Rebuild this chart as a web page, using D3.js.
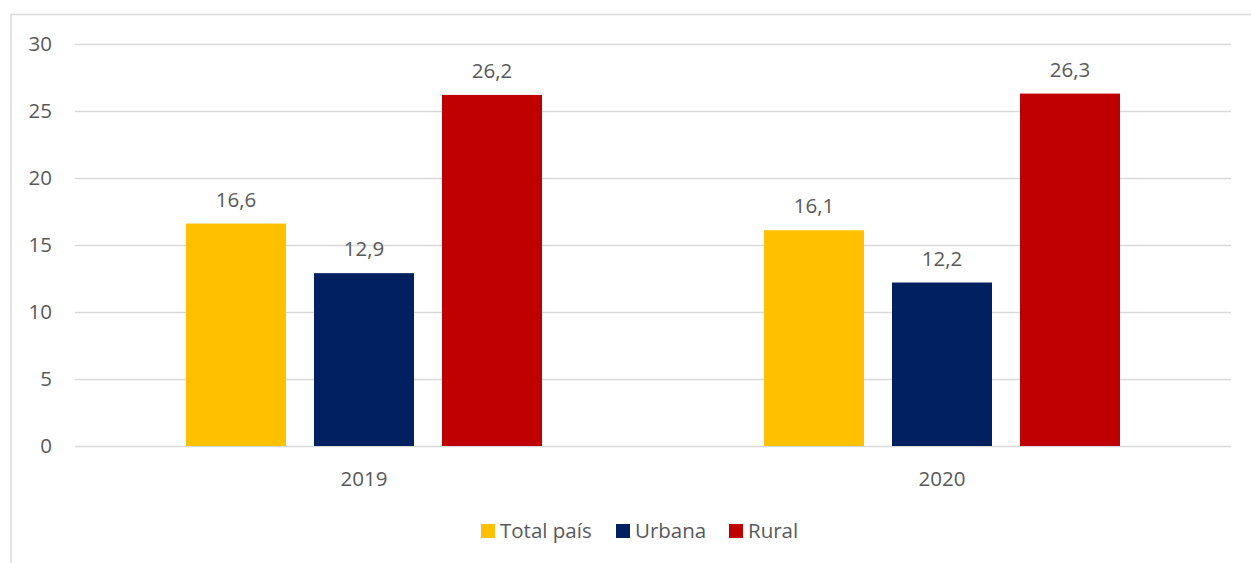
<!DOCTYPE html>
<html>
<head>
<meta charset="utf-8">
<script src="https://cdn.jsdelivr.net/npm/d3@7"></script>
<style>
  body { margin: 0; background: #fff; }
  svg text { font-family: "Open Sans", sans-serif; fill: #595959; }
</style>
</head>
<body>
<div id="chart"></div>
<script>
// data
var years = ['2019', '2020'];
var seriesNames = ['Total país', 'Urbana', 'Rural'];
var seriesColors = ['#FFC000', '#002060', '#C00000'];
var totalPais = [16.6, 16.1];
var urbana = [12.9, 12.2];
var rural = [26.2, 26.3];
var yTicks = [0, 5, 10, 15, 20, 25, 30];

var values = [totalPais, urbana, rural];
var W = 1251, H = 563;
var fs = '20.5px';

var svg = d3.select('#chart').append('svg')
    .attr('width', W).attr('height', H);

// outer frame
svg.append('rect')
    .attr('x', 11).attr('y', 14.5)
    .attr('width', W + 5).attr('height', H)
    .attr('fill', 'none').attr('stroke', '#d9d9d9').attr('stroke-width', 1.5);

var plotLeft = 75, plotRight = 1231, plotTop = 44, plotBottom = 446;

var y = d3.scaleLinear().domain([0, 30]).range([plotBottom, plotTop]);
var x0 = d3.scaleBand().domain(years).range([plotLeft, plotRight]);
// bars inside one category (category is 578 wide)
var x1 = d3.scaleBand().domain(seriesNames).range([111, 467]).paddingInner(28 / 128);

// gridlines
svg.append('g').selectAll('line')
    .data(yTicks).enter().append('line')
    .attr('x1', plotLeft).attr('x2', plotRight)
    .attr('y1', function(d) { return Math.round(y(d)) + 0.5; })
    .attr('y2', function(d) { return Math.round(y(d)) + 0.5; })
    .attr('stroke', '#d9d9d9').attr('stroke-width', 1.5);

// y labels
svg.append('g').selectAll('text')
    .data(yTicks).enter().append('text')
    .attr('x', 52).attr('y', function(d) { return y(d); })
    .attr('dy', '0.35em').attr('text-anchor', 'end')
    .style('font-size', fs)
    .text(function(d) { return d; });

// bars
var groups = svg.append('g').selectAll('g')
    .data(years).enter().append('g')
    .attr('transform', function(d) { return 'translate(' + x0(d) + ',0)'; });

groups.each(function(yr, i) {
  var g = d3.select(this);
  seriesNames.forEach(function(s, j) {
    var v = values[j][i];
    g.append('rect')
      .attr('x', x1(s))
      .attr('width', x1.bandwidth())
      .attr('y', y(v))
      .attr('height', y(0) - y(v))
      .attr('fill', seriesColors[j]);
    g.append('text')
      .attr('x', x1(s) + x1.bandwidth() / 2)
      .attr('y', y(v) - 17)
      .attr('text-anchor', 'middle')
      .style('font-size', fs)
      .text(String(v).replace('.', ','));
  });
});

// x labels
svg.append('g').selectAll('text')
    .data(years).enter().append('text')
    .attr('x', function(d) { return x0(d) + x0.bandwidth() / 2; })
    .attr('y', 486)
    .attr('text-anchor', 'middle')
    .style('font-size', fs)
    .text(function(d) { return d; });

// legend
var legendX = [481, 616, 729];
var legend = svg.append('g').selectAll('g')
    .data(seriesNames).enter().append('g')
    .attr('transform', function(d, i) { return 'translate(' + legendX[i] + ',524)'; });
legend.append('rect')
    .attr('width', 14).attr('height', 14)
    .attr('fill', function(d, i) { return seriesColors[i]; });
legend.append('text')
    .attr('x', 19).attr('y', 7).attr('dy', '0.35em')
    .style('font-size', fs)
    .text(function(d) { return d; });
</script>
</body>
</html>
